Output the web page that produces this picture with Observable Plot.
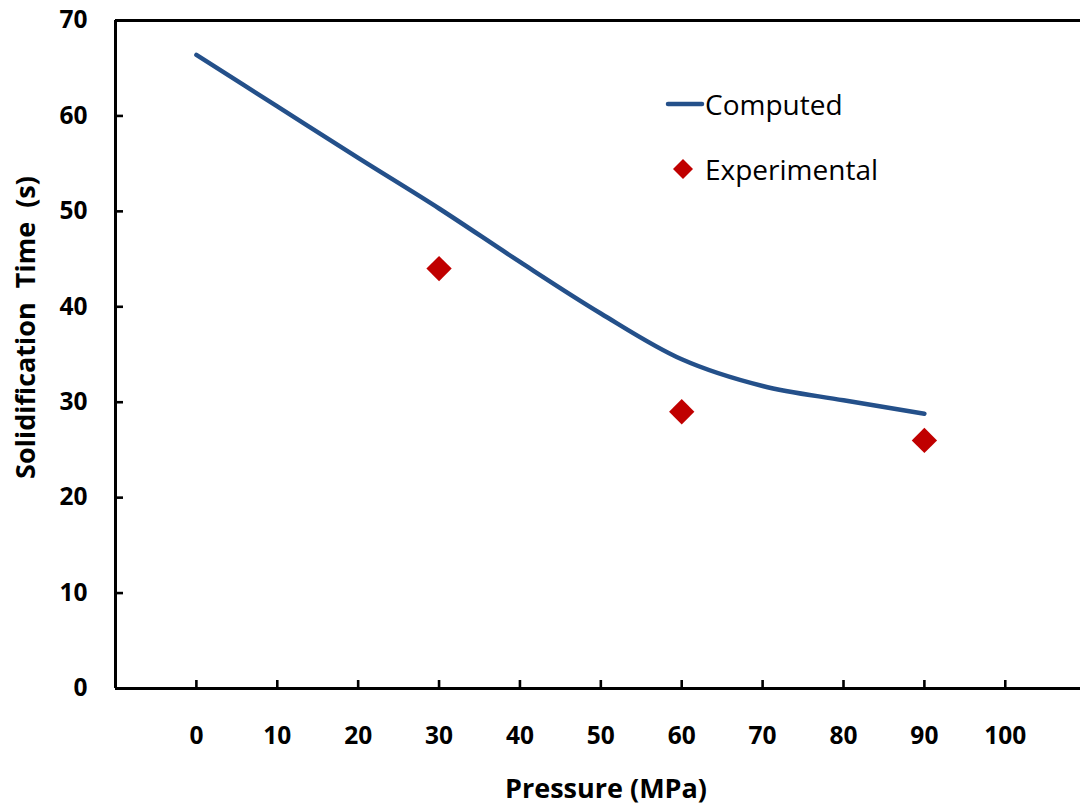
<!DOCTYPE html>
<html>
<head>
<meta charset="utf-8">
<script src="https://cdn.jsdelivr.net/npm/d3@7"></script>
<script src="https://cdn.jsdelivr.net/npm/@observablehq/plot@0.6"></script>
<style>
  html, body { margin: 0; padding: 0; background: #fff; overflow: hidden; }
  #chart { position: relative; width: 1080px; height: 806px; font-family: "Open Sans", Lato, sans-serif; }
  #chart svg { display: block; }
  .legend-item { position: absolute; display: flex; align-items: center; font-size: 28px; color: #000; white-space: nowrap; }
  .legend-item svg { display: block; margin-right: 0px; }
</style>
</head>
<body>
<div id="chart"></div>
<script>
// Simulated solidification time against applied pressure
const pressure = [0, 10, 20, 30, 40, 50, 60, 70, 80, 90];
const computedTime = [66.4, 61.0, 55.6, 50.3, 44.7, 39.3, 34.5, 31.7, 30.2, 28.8];

// Measured solidification times
const expPressure = [30, 60, 90];
const expTime = [44, 29, 26];

// Axis ticks
const xTicks = [0, 10, 20, 30, 40, 50, 60, 70, 80, 90, 100];
const yTicks = [0, 10, 20, 30, 40, 50, 60, 70];

const lineColor = "#24508A";
const pointColor = "#C00000";

const computed = pressure.map((p, i) => ({p, t: computedTime[i]}));
const experimental = expPressure.map((p, i) => ({p, t: expTime[i]}));

const chart = Plot.plot({
  width: 1080,
  height: 806,
  marginLeft: 115,
  marginRight: 0,
  marginTop: 20,
  marginBottom: 118,
  style: {fontFamily: "'Open Sans', Lato, sans-serif", background: "#fff", color: "#000"},
  x: {domain: [-10, 109.3]},
  y: {domain: [0, 70]},
  marks: [
    // inward tick marks
    Plot.axisX(xTicks, {tickSize: 8, dy: -8, text: null, label: null, strokeWidth: 2.6}),
    Plot.axisY(yTicks, {tickSize: 8, dx: 8, text: null, label: null, strokeWidth: 2.6}),
    // tick labels
    Plot.axisX(xTicks, {tickSize: 0, tickPadding: 38, fontSize: 24.5, fontWeight: "bold", label: null}),
    Plot.axisY(yTicks, {tickSize: 0, tickPadding: 28, fontSize: 24.5, fontWeight: "bold", label: null}),
    // frame: bottom, top, left
    Plot.ruleY([0, 70], {stroke: "#000", strokeWidth: 3}),
    Plot.ruleX([-10], {stroke: "#000", strokeWidth: 3}),
    // axis titles
    Plot.text(["Pressure (MPa)"], {frameAnchor: "bottom", dx: 8, dy: 109, fontSize: 27, fontWeight: "bold", fill: "#000"}),
    Plot.text(["Solidification\u00a0 Time\u00a0 (s)"], {frameAnchor: "left", textAnchor: "middle", rotate: -90, dx: -89, dy: -27, fontSize: 27, fontWeight: "bold", fill: "#000"}),
    // data
    Plot.line(computed, {x: "p", y: "t", curve: "catmull-rom", stroke: lineColor, strokeWidth: 4.5, strokeLinecap: "round"}),
    Plot.dot(experimental, {x: "p", y: "t", symbol: "diamond2", r: 11.4, fill: pointColor, stroke: "none"})
  ]
});

const root = document.getElementById("chart");
root.appendChild(chart);

// legend inside the plot area
const legend = [
  {label: "Computed", top: 85, swatch: `<svg width="40" height="34"><line x1="3" y1="17" x2="37" y2="17" stroke="${lineColor}" stroke-width="4.5" stroke-linecap="round"/></svg>`},
  {label: "Experimental", top: 150, swatch: `<svg width="40" height="34"><path d="M18,7 L28,17 L18,27 L8,17 Z" fill="${pointColor}"/></svg>`}
];
for (const item of legend) {
  const div = document.createElement("div");
  div.className = "legend-item";
  div.style.left = "665px";
  div.style.top = item.top + "px";
  div.innerHTML = item.swatch + `<span>${item.label}</span>`;
  root.appendChild(div);
}
</script>
</body>
</html>
